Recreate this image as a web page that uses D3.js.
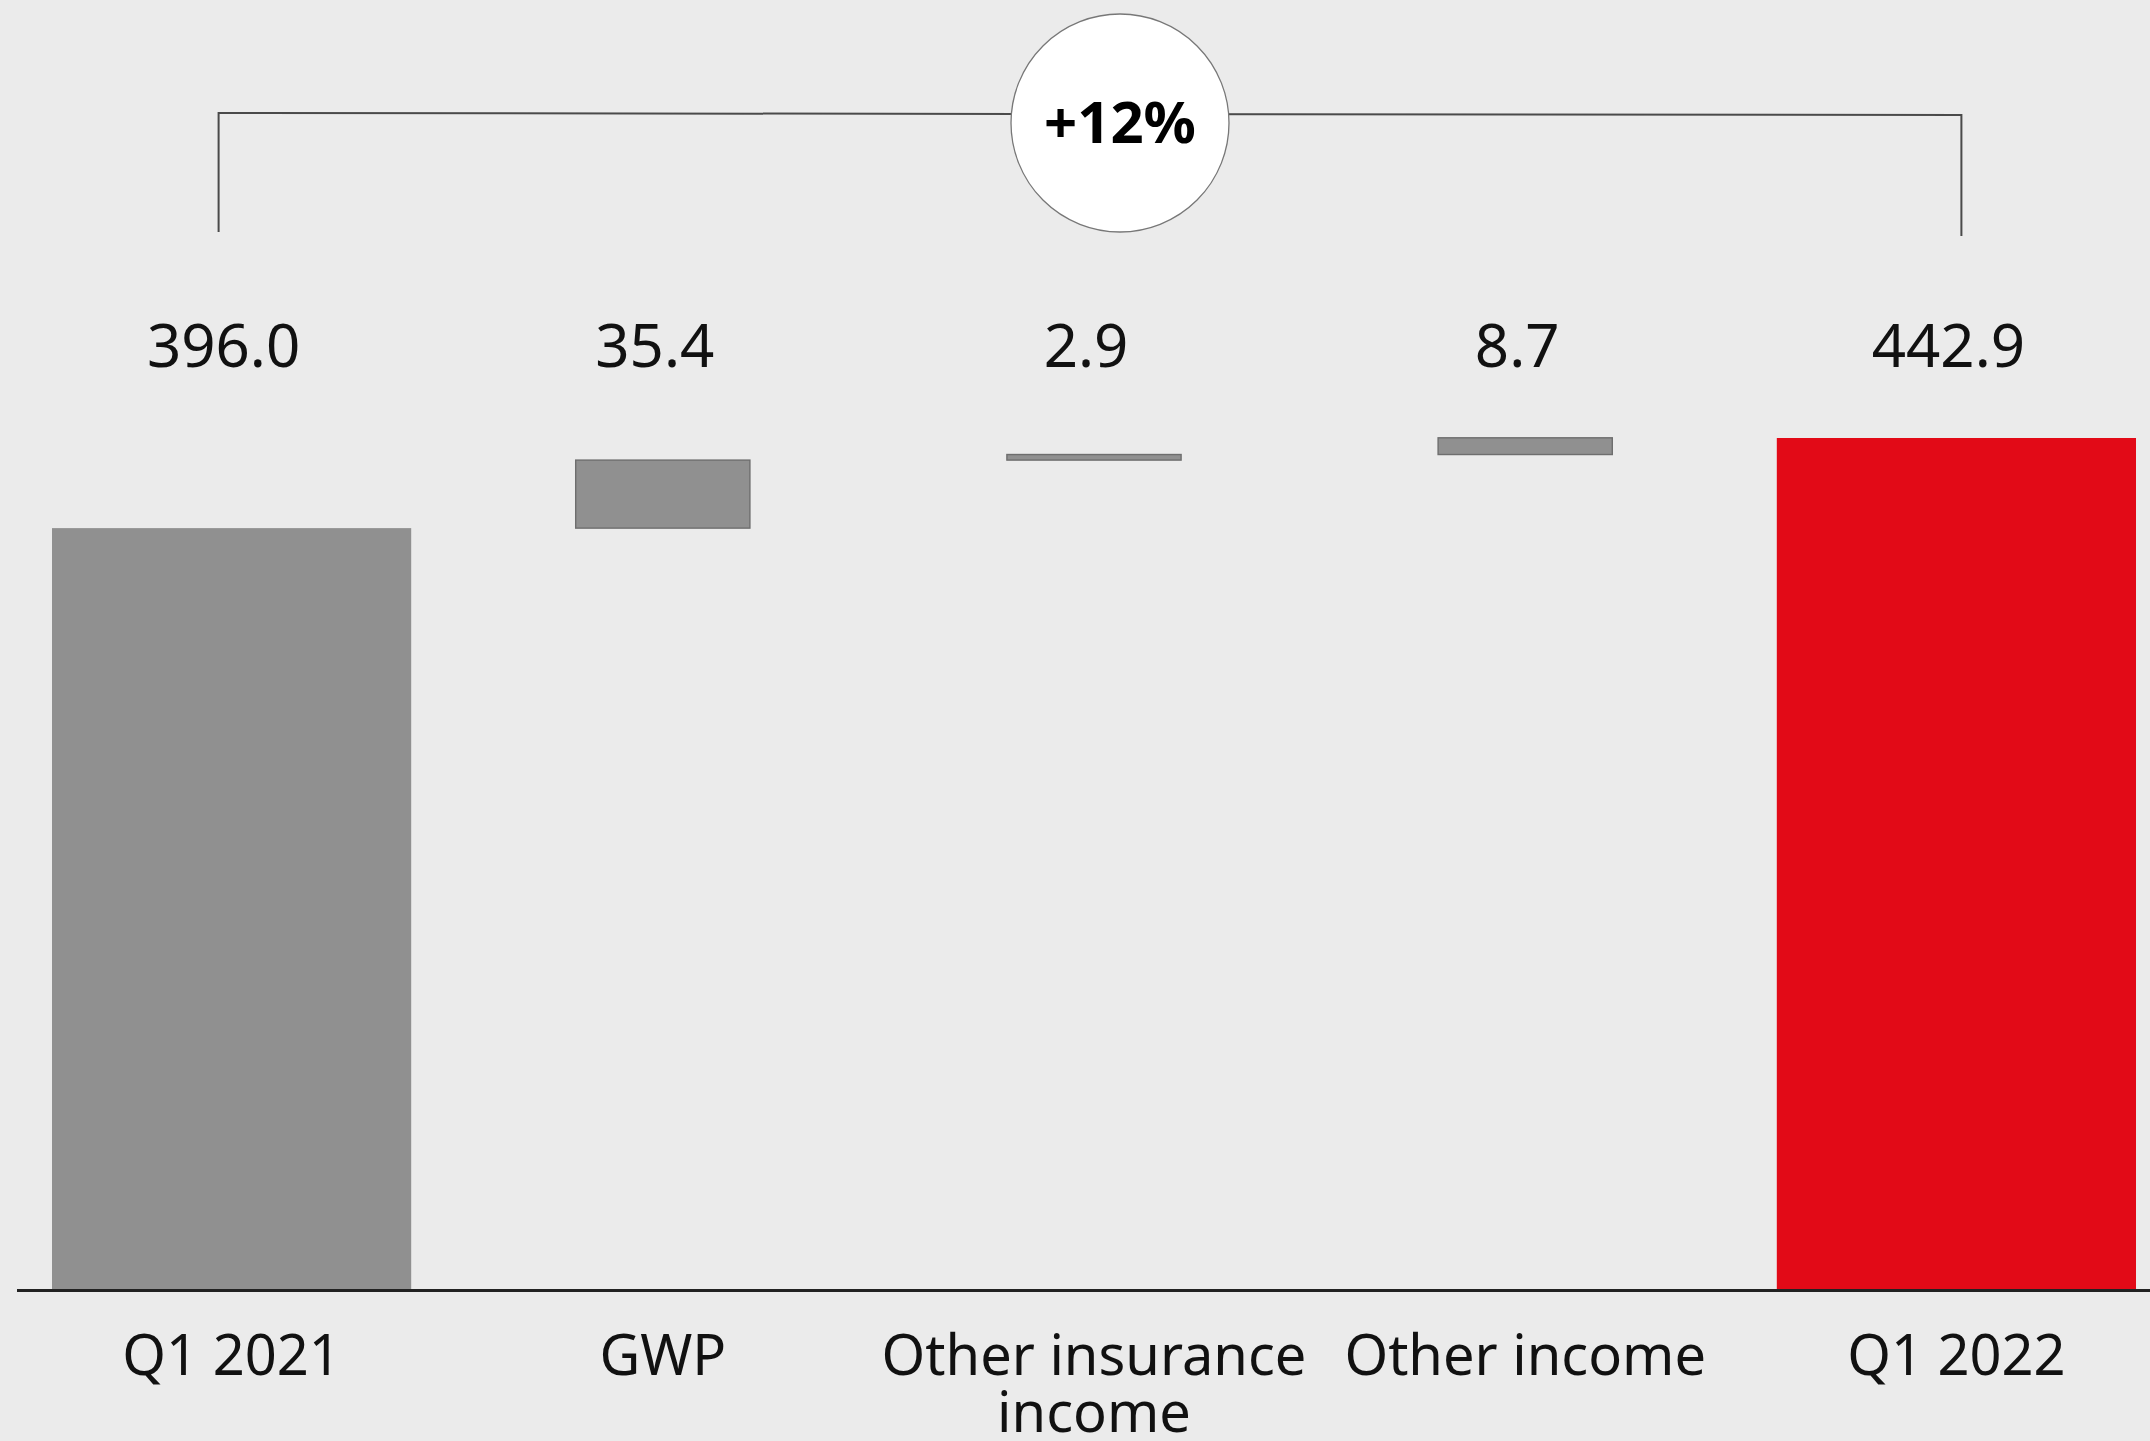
<!DOCTYPE html>
<html>
<head>
<meta charset="utf-8">
<script src="https://cdn.jsdelivr.net/npm/d3@7"></script>
<style>
    html, body { margin: 0; padding: 0; background: #ebebeb; }
    svg { display: block; font-family: "Noto Sans", sans-serif; }
</style>
</head>
<body>
<div id="chart"></div>
<script>
// waterfall data
const categories = ['Q1 2021', 'GWP', 'Other insurance income', 'Other income', 'Q1 2022'];
const values = [396.0, 35.4, 2.9, 8.7, 442.9];
const isTotal = [true, false, false, false, true];
const valueLabels = ['396.0', '35.4', '2.9', '8.7', '442.9'];
const categoryLines = [['Q1 2021'], ['GWP'], ['Other insurance', 'income'], ['Other income'], ['Q1 2022']];
const growthLabel = '+12%';

const width = 2150, height = 1441;

const svg = d3.select('#chart').append('svg')
    .attr('width', width)
    .attr('height', height);

svg.append('rect')
    .attr('width', width).attr('height', height)
    .attr('fill', '#ebebeb');

// scales
const x = d3.scaleBand()
    .domain(categories)
    .range([16, 2172])
    .padding(0);
const y = d3.scaleLinear()
    .domain([0, d3.max(values)])
    .range([1289, 438]);

// running start / end of each step
let running = 0;
const steps = categories.map((c, i) => {
    let start, end;
    if (isTotal[i]) { start = 0; end = values[i]; running = values[i]; }
    else { start = running; end = running + values[i]; running = end; }
    return {cat: c, start, end, total: isTotal[i], label: valueLabels[i], lines: categoryLines[i]};
});

const barW = d => x.bandwidth() * (d.total ? 0.833 : 0.404);
const cx = d => x(d.cat) + x.bandwidth() / 2;

// bars
svg.append('g').selectAll('rect.bar')
    .data(steps)
    .join('rect')
    .classed('bar', true)
    .attr('x', d => cx(d) - barW(d) / 2)
    .attr('width', barW)
    .attr('y', d => y(Math.max(d.start, d.end)))
    .attr('height', d => Math.abs(y(d.start) - y(d.end)))
    .attr('fill', (d, i) => i === steps.length - 1 ? '#e20a17' : '#909090')
    .attr('stroke', d => d.total ? 'none' : '#6e6e6e')
    .attr('stroke-width', 1.4);

// baseline
svg.append('line')
    .attr('x1', 17).attr('x2', width)
    .attr('y1', y(0) + 1.5).attr('y2', y(0) + 1.5)
    .attr('stroke', '#222')
    .attr('stroke-width', 3);

// value labels
svg.append('g').selectAll('text.value')
    .data(steps)
    .join('text')
    .classed('value', true)
    .attr('x', d => cx(d) - 8)
    .attr('y', 367)
    .attr('text-anchor', 'middle')
    .attr('font-size', 60)
    .attr('fill', '#111')
    .text(d => d.label);

// category labels
const catG = svg.append('g').selectAll('text.cat')
    .data(steps)
    .join('text')
    .classed('cat', true)
    .attr('text-anchor', 'middle')
    .attr('font-size', 56)
    .attr('fill', '#111');
catG.selectAll('tspan')
    .data(d => d.lines.map(l => ({l, x: cx(d)})))
    .join('tspan')
    .attr('x', t => t.x)
    .attr('y', (t, i) => 1375 + i * 57)
    .text(t => t.l);

// growth bracket
const first = steps[0], last = steps[steps.length - 1];
const bx1 = cx(first) - 13, bx2 = cx(last) + 5;
svg.append('path')
    .attr('d', `M${bx1},232 L${bx1},113 L${bx2},115 L${bx2},236`)
    .attr('fill', 'none')
    .attr('stroke', '#4a4a4a')
    .attr('stroke-width', 2);

const circleX = 1120, circleY = 123;
svg.append('circle')
    .attr('cx', circleX).attr('cy', circleY)
    .attr('r', 109)
    .attr('fill', '#fff')
    .attr('stroke', '#777')
    .attr('stroke-width', 1.3);
svg.append('text')
    .attr('x', circleX).attr('y', 143)
    .attr('text-anchor', 'middle')
    .attr('font-size', 58)
    .attr('font-weight', 'bold')
    .attr('fill', '#000')
    .text(growthLabel);
</script>
</body>
</html>
